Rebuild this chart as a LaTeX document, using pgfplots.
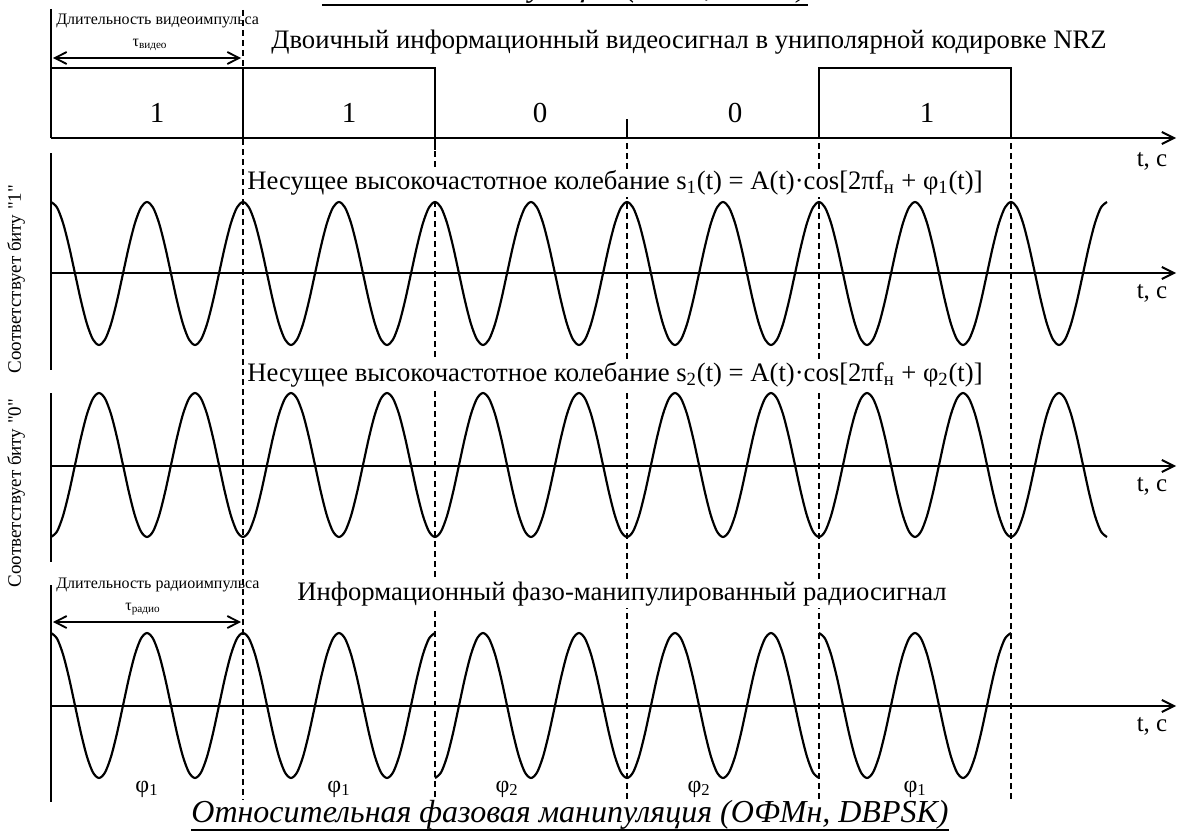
\documentclass[border=0pt]{standalone}
\usepackage{fontspec}
\setmainfont{Liberation Serif}[Ligatures=TeXOff]
\usepackage{pgfplots}
\pgfplotsset{compat=1.18}
\usepackage{pgfplotstable}
\usetikzlibrary{arrows.meta}

% x in 1/16 of a carrier period (16 samples per period, 2 periods per bit)
\pgfplotstableread{
x s1 s2
0 1 -1
1 0.9239 -0.9239
2 0.7071 -0.7071
3 0.3827 -0.3827
4 0 0
5 -0.3827 0.3827
6 -0.7071 0.7071
7 -0.9239 0.9239
8 -1 1
9 -0.9239 0.9239
10 -0.7071 0.7071
11 -0.3827 0.3827
12 0 0
13 0.3827 -0.3827
14 0.7071 -0.7071
15 0.9239 -0.9239
16 1 -1
17 0.9239 -0.9239
18 0.7071 -0.7071
19 0.3827 -0.3827
20 0 0
21 -0.3827 0.3827
22 -0.7071 0.7071
23 -0.9239 0.9239
24 -1 1
25 -0.9239 0.9239
26 -0.7071 0.7071
27 -0.3827 0.3827
28 0 0
29 0.3827 -0.3827
30 0.7071 -0.7071
31 0.9239 -0.9239
32 1 -1
33 0.9239 -0.9239
34 0.7071 -0.7071
35 0.3827 -0.3827
36 0 0
37 -0.3827 0.3827
38 -0.7071 0.7071
39 -0.9239 0.9239
40 -1 1
41 -0.9239 0.9239
42 -0.7071 0.7071
43 -0.3827 0.3827
44 0 0
45 0.3827 -0.3827
46 0.7071 -0.7071
47 0.9239 -0.9239
48 1 -1
49 0.9239 -0.9239
50 0.7071 -0.7071
51 0.3827 -0.3827
52 0 0
53 -0.3827 0.3827
54 -0.7071 0.7071
55 -0.9239 0.9239
56 -1 1
57 -0.9239 0.9239
58 -0.7071 0.7071
59 -0.3827 0.3827
60 0 0
61 0.3827 -0.3827
62 0.7071 -0.7071
63 0.9239 -0.9239
64 1 -1
65 0.9239 -0.9239
66 0.7071 -0.7071
67 0.3827 -0.3827
68 0 0
69 -0.3827 0.3827
70 -0.7071 0.7071
71 -0.9239 0.9239
72 -1 1
73 -0.9239 0.9239
74 -0.7071 0.7071
75 -0.3827 0.3827
76 0 0
77 0.3827 -0.3827
78 0.7071 -0.7071
79 0.9239 -0.9239
80 1 -1
81 0.9239 -0.9239
82 0.7071 -0.7071
83 0.3827 -0.3827
84 0 0
85 -0.3827 0.3827
86 -0.7071 0.7071
87 -0.9239 0.9239
88 -1 1
89 -0.9239 0.9239
90 -0.7071 0.7071
91 -0.3827 0.3827
92 0 0
93 0.3827 -0.3827
94 0.7071 -0.7071
95 0.9239 -0.9239
96 1 -1
97 0.9239 -0.9239
98 0.7071 -0.7071
99 0.3827 -0.3827
100 0 0
101 -0.3827 0.3827
102 -0.7071 0.7071
103 -0.9239 0.9239
104 -1 1
105 -0.9239 0.9239
106 -0.7071 0.7071
107 -0.3827 0.3827
108 0 0
109 0.3827 -0.3827
110 0.7071 -0.7071
111 0.9239 -0.9239
112 1 -1
113 0.9239 -0.9239
114 0.7071 -0.7071
115 0.3827 -0.3827
116 0 0
117 -0.3827 0.3827
118 -0.7071 0.7071
119 -0.9239 0.9239
120 -1 1
121 -0.9239 0.9239
122 -0.7071 0.7071
123 -0.3827 0.3827
124 0 0
125 0.3827 -0.3827
126 0.7071 -0.7071
127 0.9239 -0.9239
128 1 -1
129 0.9239 -0.9239
130 0.7071 -0.7071
131 0.3827 -0.3827
132 0 0
133 -0.3827 0.3827
134 -0.7071 0.7071
135 -0.9239 0.9239
136 -1 1
137 -0.9239 0.9239
138 -0.7071 0.7071
139 -0.3827 0.3827
140 0 0
141 0.3827 -0.3827
142 0.7071 -0.7071
143 0.9239 -0.9239
144 1 -1
145 0.9239 -0.9239
146 0.7071 -0.7071
147 0.3827 -0.3827
148 0 0
149 -0.3827 0.3827
150 -0.7071 0.7071
151 -0.9239 0.9239
152 -1 1
153 -0.9239 0.9239
154 -0.7071 0.7071
155 -0.3827 0.3827
156 0 0
157 0.3827 -0.3827
158 0.7071 -0.7071
159 0.9239 -0.9239
160 1 -1
161 0.9239 -0.9239
162 0.7071 -0.7071
163 0.3827 -0.3827
164 0 0
165 -0.3827 0.3827
166 -0.7071 0.7071
167 -0.9239 0.9239
168 -1 1
169 -0.9239 0.9239
170 -0.7071 0.7071
171 -0.3827 0.3827
172 0 0
173 0.3827 -0.3827
174 0.7071 -0.7071
175 0.9239 -0.9239
176 1 -1
}\wave

\newcommand\fT{\fontsize{16pt}{18pt}\selectfont}
\newcommand\fD{\fontsize{17.4pt}{19pt}\selectfont}
\newcommand\fS{\fontsize{9.6pt}{11pt}\selectfont}
\newcommand\fV{\fontsize{11.4pt}{12pt}\selectfont}
\newcommand\fB{\fontsize{19.2pt}{22pt}\selectfont\itshape}
\newcommand\fP{\fontsize{14.4pt}{16pt}\selectfont}
\newcommand\fA{\fontsize{15pt}{16pt}\selectfont}

\pgfplotsset{
  panel/.style={scale only axis, axis lines=none, clip=false,
    xmin=0, xmax=176, width=633.6pt, anchor=south west},
  wv/.style={black, line width=1.3pt, smooth, no markers}
}

\begin{document}
\begin{tikzpicture}
\useasboundingbox (0,0) rectangle (706.2pt,-502.8pt);

% NRZ panel
\begin{axis}[panel, ymin=0, ymax=1, height=42pt, at={(30.6pt,-82.8pt)}]
  \addplot[black, line width=1.2pt, const plot, no markers] coordinates {(0,1) (32,1) (64,0) (96,0) (128,1) (160,0)};
  \addplot[black, line width=1.2pt, no markers] coordinates {(32,0) (32,1)};
  \addplot[black, line width=1.2pt, no markers] coordinates {(64,-0.171) (64,1)};
  \addplot[black, line width=1.2pt, no markers] coordinates {(96,0) (96,0.27)};
\end{axis}

% carrier s1
\begin{axis}[panel, ymin=-1, ymax=1, height=85.8pt, at={(30.6pt,-207pt)}]
  \addplot[wv] table[x=x, y=s1] {\wave};
\end{axis}

% carrier s2
\begin{axis}[panel, ymin=-1, ymax=1, height=86.4pt, at={(30.6pt,-322.2pt)}]
  \addplot[wv] table[x=x, y=s2] {\wave};
\end{axis}

% DBPSK signal
\begin{axis}[panel, ymin=-1, ymax=1, height=87pt, at={(30.6pt,-466.8pt)}]
  \addplot[wv, restrict x to domain=0:64] table[x=x, y=s1] {\wave};
  \addplot[wv, restrict x to domain=64:128] table[x=x, y=s2] {\wave};
  \addplot[wv, restrict x to domain=128:160] table[x=x, y=s1] {\wave};
\end{axis}

\begin{scope}[x=0.6pt, y=-0.6pt]
  \tikzset{
    ax/.style={line width=1.2pt, -{Straight Barb[length=7.2pt,width=7.2pt]}},
    vx/.style={line width=1.2pt},
    dsh/.style={line width=0.7pt, dash pattern=on 3.6pt off 2.4pt},
    dar/.style={line width=1.1pt, {Straight Barb[length=7pt,width=7.2pt]}-{Straight Barb[length=7pt,width=7.2pt]}}
  }
  % dashed bit boundaries
  \draw[dsh] (243,10) -- (243,68);
  \draw[dsh] (243,139) -- (243,800);
  \draw[dsh] (435,151) -- (435,800);
  \draw[dsh] (627,143) -- (627,800);
  \draw[dsh] (819,143) -- (819,800);
  \draw[dsh] (1011,143) -- (1011,800);

  % axes
  \draw[vx] (51,9) -- (51,138);
  \draw[ax] (51,138) -- (1176,138);
  \draw[vx] (51,153) -- (51,370);
  \draw[ax] (51,273) -- (1176,273);
  \draw[vx] (51,393) -- (51,562);
  \draw[ax] (51,466) -- (1176,466);
  \draw[vx] (51,585) -- (51,802);
  \draw[ax] (51,706) -- (1176,706);

  % duration arrows
  \draw[dar] (53,58) -- (241,58);
  \draw[dar] (53,622) -- (241,622);
  \node[anchor=west, inner sep=0] at (56,21) {\fS Длительность видеоимпульса};
  \node[inner sep=0] at (150,45) {\fS τ\textsubscript{видео}};
  \node[anchor=west, inner sep=0] at (56,585) {\fS Длительность радиоимпульса};
  \node[inner sep=0] at (143,609) {\fS τ\textsubscript{радио}};

  % headers
  \node[anchor=west, inner sep=0] at (271,42) {\fT Двоичный информационный видеосигнал в униполярной кодировке NRZ};
  \node[anchor=west, inner xsep=0pt, inner ysep=1pt, fill=white] at (247,183) {\fT Несущее высокочастотное колебание s\textsubscript{1}(t) = A(t)·cos[2πf\textsubscript{н} + φ\textsubscript{1}(t)]};
  \node[anchor=west, inner xsep=0pt, inner ysep=1pt, fill=white] at (247,375) {\fT Несущее высокочастотное колебание s\textsubscript{2}(t) = A(t)·cos[2πf\textsubscript{н} + φ\textsubscript{2}(t)]};
  \node[anchor=west, inner xsep=0pt, inner ysep=1pt, fill=white] at (297,594) {\fT Информационный фазо-манипулированный радиосигнал};

  % bit values
  \node[inner sep=0] at (157,113) {\fD 1};
  \node[inner sep=0] at (349,113) {\fD 1};
  \node[inner sep=0] at (540,113) {\fD 0};
  \node[inner sep=0] at (735,113) {\fD 0};
  \node[inner sep=0] at (927,113) {\fD 1};

  % phase labels
  \node[inner sep=0] at (147,789) {\fP φ\textsubscript{1}};
  \node[inner sep=0] at (339,789) {\fP φ\textsubscript{1}};
  \node[inner sep=0] at (507,789) {\fP φ\textsubscript{2}};
  \node[inner sep=0] at (699,789) {\fP φ\textsubscript{2}};
  \node[inner sep=0] at (915,789) {\fP φ\textsubscript{1}};

  % axis labels
  \node[inner sep=0] at (1152,161) {\fA t, с};
  \node[inner sep=0] at (1152,293) {\fA t, с};
  \node[inner sep=0] at (1152,486) {\fA t, с};
  \node[inner sep=0] at (1152,726) {\fA t, с};

  % vertical labels
  \node[rotate=90, inner sep=0] at (16,279) {\fV Соответствует биту "1"};
  \node[rotate=90, inner sep=0] at (16,493) {\fV Соответствует биту "0"};

  % titles (the upper one is cut by the top edge, as in the reference)
  \node[anchor=base, inner sep=0] (tt) at (565,-3) {\fB Фазовая манипуляция (ФМн, BPSK)};
  \draw[line width=1.2pt] ([yshift=-4.8pt]tt.base west) -- ([yshift=-4.8pt]tt.base east);
  \node[anchor=base, inner sep=0] (bt) at (570,822) {\fB Относительная фазовая манипуляция (ОФМн, DBPSK)};
  \draw[line width=1.2pt] ([yshift=-4.8pt]bt.base west) -- ([yshift=-4.8pt]bt.base east);
\end{scope}
\end{tikzpicture}
\end{document}
